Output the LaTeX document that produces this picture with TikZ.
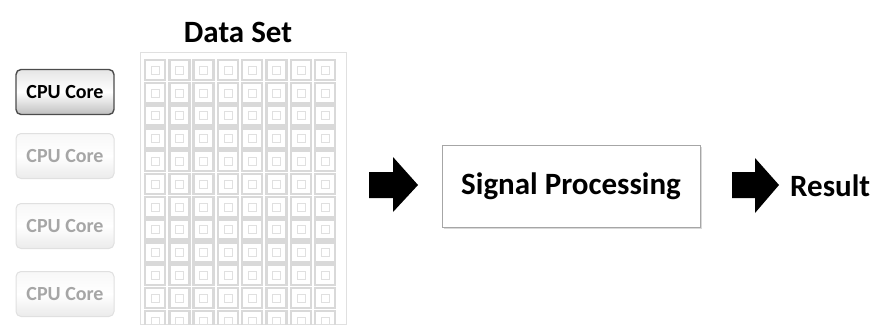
\documentclass[tikz,border=0pt]{standalone}
\usepackage{fontspec}
\setmainfont{Carlito}
\usetikzlibrary{shadows}
\begin{document}
\begin{tikzpicture}[x=1pt,y=-1pt,
  core/.style={rounded corners=5pt, minimum width=98pt, minimum height=45pt, inner sep=0pt, font=\bfseries\fontsize{20}{24}\selectfont},
  coreon/.style={core, draw=black!70, line width=1.4pt, top color=black!10, bottom color=black!25, middle color=white, text=black},
  coreoff/.style={core, draw=black!12, line width=1pt, top color=black!3, bottom color=black!8, middle color=white, text=black!35},
  bigarrow/.style={fill=black},
  lbl/.style={font=\bfseries\fontsize{31}{36}\selectfont},
]
\useasboundingbox (0,0) rectangle (896,324);
% Data set grid
\node[lbl] (title) at (238,32) {Data Set};
\draw[black!12, line width=1pt] (140,52) rectangle (346,324);
\foreach \i in {0,...,7}{
  \foreach \j in {0,...,11}{
    \pgfmathsetmacro{\cx}{155+\i*24.3}
    \pgfmathsetmacro{\cy}{70+\j*22.8}
    \draw[black!15, line width=2.5pt] (\cx-10,\cy-10) rectangle (\cx+10,\cy+10);
    \draw[black!12, line width=0.6pt] (\cx-4,\cy-4) rectangle (\cx+4,\cy+4);
  }
}
% CPU cores
\node[coreon] (c1) at (65,92) {CPU Core};
\node[coreoff] (c2) at (65,156) {CPU Core};
\node[coreoff] (c3) at (65,226) {CPU Core};
\node[coreoff] (c4) at (65,294) {CPU Core};
% arrows
\fill[bigarrow] (369,172) -- (393,172) -- (393,157) -- (418,185) -- (393,212) -- (393,198) -- (369,198) -- cycle;
\node[draw=black!35, line width=0.8pt, fill=white, minimum width=258pt, minimum height=82pt, lbl,
  drop shadow={shadow xshift=1.5pt, shadow yshift=-1.5pt, opacity=0.3}] (sp) at (571,186) {Signal Processing};
\fill[bigarrow] (732,172) -- (755,172) -- (755,158) -- (779,185) -- (755,213) -- (755,198) -- (732,198) -- cycle;
\node[lbl, anchor=west, inner sep=0pt] (res) at (790,186) {Result};
\end{tikzpicture}
\end{document}
